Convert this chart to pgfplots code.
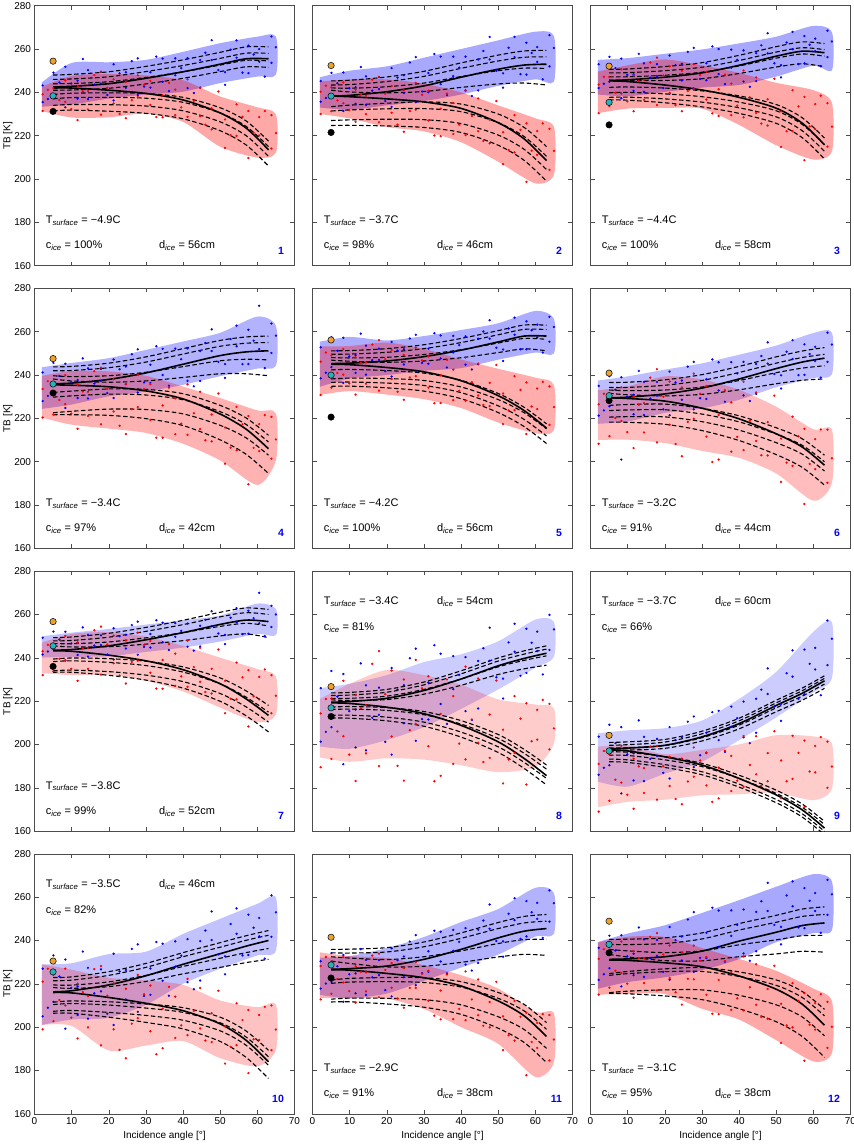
\documentclass[border=0pt]{standalone}
\usepackage{fontspec}
\setmainfont{Liberation Sans}
\usepackage{pgfplots}
\pgfplotsset{compat=1.18}
\usepackage{pgfplotstable}
\definecolor{mor}{RGB}{238,162,42}
\definecolor{mcy}{RGB}{38,178,184}
\newcommand\annfont{\fontsize{11}{13}\selectfont}
\newcommand\numfont{\fontsize{10.5}{12}\selectfont\bfseries}

\pgfplotsset{
  panel/.style={width=260pt,height=260pt,scale only axis,
    xmin=0,xmax=70,ymin=160,ymax=280,
    xtick={0,10,...,70},ytick={160,180,...,280},
    xticklabels={},yticklabels={},
    axis line style={black!70,line width=0.6pt},
    every tick/.style={black!70,line width=0.5pt},
    major tick length=4pt,
    tick label style={font=\fontsize{10}{12}\selectfont},
    label style={font=\fontsize{11.5}{13}\selectfont},
    every axis y label/.style={at={(axis description cs:-0.103,0.5)},rotate=90,anchor=center},
    every axis x label/.style={at={(axis description cs:0.5,-0.085)},anchor=center},
  },
  lcol/.style={yticklabels={160,180,200,220,240,260,280},ylabel={TB [K]}},
  brow/.style={xticklabels={0,10,20,30,40,50,60,70},xlabel={Incidence angle [°]}},
  bdot/.style={only marks,mark=*,blue,mark size=0.95pt},
  rdot/.style={only marks,mark=*,red,mark size=0.95pt},
  dcurve/.style={black,line width=1.1pt,dash pattern=on 4.5pt off 2.5pt,smooth,no marks},
  scurve/.style={black,line width=1.6pt,smooth,no marks},
}

% ---------------- curves: x V H v1 v2 v3 v4 h1 h2 h3 h4
\pgfplotstableread{
x V H v1 v2 v3 v4 h1 h2 h3 h4
5 242.5 242 248 246 244 241 239 237 234 231.5
10 242.8 242 248.3 246.2 244.1 241.1 239.6 237.6 234.4 231.8
20 244 241 249.5 247.2 244.9 241.9 239.8 237.7 234.3 231.3
30 246.5 239.5 252 249.6 246.9 243.9 239.5 237.3 233.7 230.3
40 249.5 236.5 255 252.4 249.5 246.5 237.7 235.4 231.5 227.8
50 253 230.5 258.5 255.7 252.6 249.6 232.9 230.5 226.4 222.3
57 255.5 223.5 261 258.1 254.8 251.8 226.8 224.3 220 215.7
63 255.5 213.5 261 258 254.5 251.5 217.5 215 210.5 206
}\cA
\pgfplotstableread{
x V H v1 v2 v3 v4 h1 h2 h3 h4
5 238.3 238.3 245.3 243.4 242.1 241 233.4 231.4 227 224.7
10 238.6 238 245.6 243.6 241.9 240.2 234.1 231.9 227.3 224.8
20 240.3 237 247.1 245 242.6 239.8 235 232.4 227.6 224.5
30 243 235.6 249.7 247.4 244.3 240.4 235.6 232.5 227.4 223.8
40 247 232.6 253.6 251.1 247.3 242.3 234.6 231.1 225.6 221.5
50 250.7 226 257.2 254.5 250 243.9 230 226 220.3 215.6
57 252.6 218.5 259.1 256.2 251.2 244.3 223.8 219.6 213.7 208.6
63 253 208.5 259.4 256.4 251 243.4 215 210.5 204.4 199
}\cB
\pgfplotstableread{
x V H v1 v2 v3 v4 h1 h2 h3 h4
5 245.5 245.3 250.6 249 247.2 245.7 242.3 239.8 237.7 236.5
10 245.8 245 250.8 249.1 247.2 245.4 242.5 240 237.8 236.4
20 247 243.4 251.9 250 247.9 245.5 242 239.3 237 235.2
30 249 241.1 253.7 251.6 249.3 246.3 240.7 238 235.5 233.3
40 252.5 237.7 257.1 254.7 252.2 248.7 238.4 235.5 232.9 230.3
50 256.7 232.7 261.1 258.6 255.8 251.7 234.4 231.5 228.7 225.7
57 259 225.8 263.3 260.6 257.7 253.2 228.3 225.2 222.3 219.1
63 258.3 215.8 262.5 259.7 256.7 251.8 218.9 215.8 212.8 209.3
}\cC
\pgfplotstableread{
x V H v1 v2 v3 v4 h1 h2 h3 h4
5 236 235.5 243.8 242 239.7 238.2 232 229.8 222.6 221.7
10 236.3 235.3 244 242.1 239.3 237.3 232.6 230.4 223.3 221.7
20 238 234.6 245.5 243.4 239.7 236.7 233.6 231.2 224.3 221.4
30 241 232.7 248.4 246 241.3 237.3 233.4 230.8 224.1 219.9
40 245 229 252.2 249.7 243.9 238.9 231.4 228.6 222.1 216.7
50 249 222 256 253.3 246.6 240.6 226 223.1 216.8 210.1
57 250.7 215 257.6 254.7 247.3 240.6 220.2 217.2 211 203.4
63 251.2 206 258 255 247 239.7 212.2 209.1 203 194.6
}\cD
\pgfplotstableread{
x V H v1 v2 v3 v4 h1 h2 h3 h4
5 245.3 245 251.2 249.6 248.1 246.9 242.4 238.2 236.6 234.8
10 245.5 244.8 251.3 249.7 247.9 246.4 242.6 238.6 236.8 234.9
20 246.5 243.5 252.2 250.5 248.2 245.9 242.1 238.4 236.3 234.1
30 248.5 241.5 254 252.2 249.5 246.5 240.9 237.5 235.2 232.6
40 251.5 237.4 256.9 255 251.7 248 237.6 234.5 231.9 229.1
50 255.3 230.5 260.5 258.6 254.8 250.4 231.5 228.7 225.8 222.7
57 258 223.6 263.1 261.1 256.9 252.1 225.1 222.6 219.5 216.2
63 258 215.5 263 261 256.5 251.2 217.5 215.2 211.9 208.4
}\cE
\pgfplotstableread{
x V H v1 v2 v3 v4 h1 h2 h3 h4
5 229.5 229.5 236.6 234.3 233.1 231.6 226 223.6 220.6 218.3
10 229.8 229.2 236.7 234.3 232.8 230.9 226.4 223.9 220.8 218.2
20 231.3 228 237.8 235.3 233.1 230.4 226.6 224 220.7 217.3
30 234 224.7 240.2 237.5 234.5 231.1 224.7 222 218.5 214.4
40 238.2 219.8 244 241.2 237.5 233.2 221.2 218.4 214.6 209.8
50 243 212.9 248.4 245.5 241.1 236 215.7 212.8 208.8 203.3
57 246 206.8 251.1 248.1 243.2 237.6 210.6 207.6 203.5 197.4
63 247.8 198.4 252.7 249.6 244.3 238.2 203 200 195.7 189.2
}\cF
\pgfplotstableread{
x V H v1 v2 v3 v4 h1 h2 h3 h4
5 243.5 243.2 249.3 247.8 246.6 245.5 239.4 238.2 234 233.3
10 243.8 243 249.6 248 246.5 245 239.9 238.6 234.3 233.3
20 245.5 241.2 251.3 249.5 247.3 245.1 239.6 237.9 233.6 231.9
30 248.3 238.6 254 252.2 249.2 246.3 238.4 236.4 232 229.7
40 251.6 234.5 257.3 255.3 251.6 247.9 235.8 233.4 229 226
50 255.4 228 261 258.9 254.5 250.1 230.7 228 223.5 219.9
57 257.4 221 263 260.8 255.9 251 224.7 221.8 217.3 213.2
63 256.7 213.4 262.3 260 254.7 249.3 218 214.9 210.3 205.8
}\cG
\pgfplotstableread{
x V H v1 v2 v3 v4 h1 h2 h3 h4
5 219.5 219.2 223.8 222.6 221.3 220.6 217.2 216.1 213.4 212.2
10 219.8 218.9 224 222.8 221.3 220.3 217.5 216.3 213.5 212.1
20 221.3 217.2 225.4 224.1 222.3 220.7 217 215.7 212.6 210.9
30 224.9 214.2 228.8 227.5 225.4 223.2 215.2 213.7 210.3 208.4
40 230.2 208.8 234 232.6 230.2 227.3 211 209.4 205.7 203.4
50 236.3 201.2 239.9 238.5 235.8 232.3 204.6 202.8 198.9 196.3
57 239.7 193.5 243.2 241.7 238.8 234.9 197.7 195.9 191.7 188.9
63 242.1 185.6 245.5 244 240.9 236.6 190.5 188.6 184.3 181.3
}\cH
\pgfplotstableread{
x V H v1 v2 v3 v4 h1 h2 h3 h4
5 198 197.5 200.9 199.6 198.4 197.3 196.6 195 193.2 192
10 198.3 197 201.2 199.9 198.5 197.4 196.4 194.9 192.9 191.7
20 199.6 194.3 202.3 201.1 199.5 198.2 194.4 192.9 190.7 189.4
30 203.5 190.5 206.1 204.9 203.1 201.6 191.3 189.8 187.4 186
40 209.6 184.3 212.1 210.9 208.9 207.2 185.8 184.3 181.7 180.3
50 218 176.7 220.4 219.2 216.9 215.1 178.9 177.4 174.6 173.1
57 223.6 169.8 226 224.8 222.3 220.4 172.5 171 168 166.5
63 229.4 161.4 231.7 230.5 227.9 225.9 164.5 163 159.9 158.3
}\cI
\pgfplotstableread{
x V H v1 v2 v3 v4 h1 h2 h3 h4
5 216.3 216 222.9 221.4 219.5 218.3 211.5 210.4 207.3 206.4
10 216.8 215.8 223.2 221.7 219.4 217.9 212.1 210.9 207.7 206.4
20 219.5 213.7 225.6 223.9 220.9 218.7 211.7 210.2 206.8 204.6
30 223.7 211 229.4 227.6 223.9 221.1 210.7 208.8 205.4 202.2
40 229 207.6 234.4 232.5 228 224.6 209 206.8 203.2 199.2
50 233.9 201.5 239 236.9 231.8 227.6 204.6 202 198.3 193.4
57 237.4 193.9 242.2 240.1 234.4 229.8 198.2 195.4 191.6 186
63 240 184 244.6 242.4 236.3 231.3 189.3 186.3 182.4 176.3
}\cJ
\pgfplotstableread{
x V H v1 v2 v3 v4 h1 h2 h3 h4
5 226.7 226.5 235.9 234.3 232.5 230.5 221.7 220.2 212.9 211.6
10 227 226.3 236 234.2 231.9 229.4 222.5 220.8 213.4 211.7
20 228.2 224.8 236.7 234.7 231.2 227.8 222.9 221 213.3 210.7
30 231.3 222.8 239.3 237.1 232.5 228.1 222.8 220.6 212.7 209.2
40 235.9 219 243.5 241 235.2 229.9 221 218.5 210.3 205.9
50 241.2 212.1 248.3 245.5 238.6 232.4 216 213.3 204.8 199.5
57 244.3 205.2 251.1 248.1 240.4 233.6 210.5 207.5 198.9 192.9
63 245.5 195.7 252 248.9 240.5 233.1 202.1 199 190.2 183.7
}\cK
\pgfplotstableread{
x V H v1 v2 v3 v4 h1 h2 h3 h4
5 231.3 231 240.5 238.2 235.9 233.6 224.7 223.9 215.9 215.6
10 231.5 230.8 240.6 238.1 235.2 232.4 225.7 224.7 216.6 215.4
20 232.5 229.7 241.2 238.6 234.4 230.7 226.9 225.6 217.2 214.4
30 235.1 227.9 243.5 240.7 235.2 230.6 227.5 225.7 217.2 212.7
40 239.7 223.6 247.8 244.8 238 232.5 225.5 223.4 214.7 208.5
50 243.8 217.5 251.6 248.4 240.3 233.8 221.8 219.3 210.3 202.5
57 246.9 210.6 254.5 251.1 242.2 235 216.5 213.7 204.7 195.7
63 248.1 200.9 255.5 252 242.3 234.6 208.2 205.2 196 186
}\cL

% ---------------- cloud cores (closed outlines): x yb yr
\pgfplotstableread{
x yb yr
2 233.4 231.4
10 234.4 228.4
20 237.1 228.5
30 239 230.2
40 240.3 226.4
50 244.3 214.9
60 247.3 209.9
65 248.2 212.2
65 265.8 229.8
60 265.7 233.1
50 262.7 238.1
40 258.7 245.6
30 255 247.8
20 253.9 248.5
10 253.6 247.6
2 244.6 242.6
}\bA
\pgfplotstableread{
x yb yr
2 233 230
10 232 228
20 234 224
30 236 222
40 239 217
50 243 208
60 246 198
65 245 202
65 266 224
60 268 228
50 264 234
40 260 240
30 256 244
20 252 246
10 250 246
2 247 245
}\bB
\pgfplotstableread{
x yb yr
2 239 230.4
10 238.2 232.5
20 240.2 232.8
30 242.2 232.5
40 243.4 225
50 247.3 215.6
60 252.3 209
65 250.2 212.8
65 267.8 235.2
60 270.7 241
50 265.7 244.4
40 262.6 249
30 259.8 252.5
20 257.8 255.2
10 255.8 252.5
2 255 249.6
}\bC
\pgfplotstableread{
x yb yr
2 224.4 220.4
10 226.4 217.1
20 230.2 215.3
30 232.4 213.3
40 235.5 208.3
50 239.5 200.6
60 243 189.3
65 244.3 200.7
65 262.7 222.3
60 267 223.7
50 259.5 229.4
40 255.5 234.7
30 251.6 239.7
20 247.8 241.7
10 245.6 241.9
2 243.6 239.6
}\bD
\pgfplotstableread{
x yb yr
2 234.6 230.8
10 238.4 232.6
20 240 231
30 242 228.9
40 243.2 224.8
50 247.1 218.1
60 250.4 213.2
65 250 214.6
65 266 235.4
60 269.6 238.8
50 263.9 242.9
40 260.8 247.2
30 258 252.1
20 256 255
10 257.6 253.4
2 255.4 253.2
}\bE
\pgfplotstableread{
x yb yr
2 217.5 210
10 218.6 210.2
20 222.5 208.6
30 224.6 205
40 228.6 201.8
50 234.4 194.6
60 238.6 182
65 240.4 190.2
65 259.6 214.8
60 259.4 215
50 253.6 225.4
40 249.4 233.2
30 245.4 238
20 242.5 239.4
10 239.4 234.8
2 237.5 233
}\bF
\pgfplotstableread{
x yb yr
2 240.1 233
10 240.4 232
20 240.7 232.2
30 242.7 229.4
40 244.7 224.5
50 247.5 217
60 251 210.3
65 250.5 213.8
65 262.5 231.3
60 265 234.8
50 259.5 240
40 257.3 245.5
30 255.3 249.7
20 253.3 251.8
10 251.6 251
2 249.9 247
}\bG
\pgfplotstableread{
x yb yr
2 199 194
10 198 192
20 202 193.6
30 208 193
40 216.4 190.4
50 225.4 187.2
60 235.4 189.6
65 240.4 200.4
65 256.6 216.6
60 257.6 218.4
50 247.6 220.8
40 241.6 227.6
30 238 232
20 232 234.4
10 228 228
2 226 221
}\bH
\pgfplotstableread{
x yb yr
2 182.8 171
10 180.5 173.5
20 186.5 174.5
30 192 176.5
40 202 177
50 212.5 177.7
60 224 174.3
65 230.6 179.5
65 256.4 200.5
60 252 203.7
50 233.5 204.3
40 221 200
30 211 197.5
20 207.5 195.5
10 206.5 199.5
2 205.2 199
}\bI
\pgfplotstableread{
x yb yr
2 201 201
10 203.5 200.6
20 204.3 189.2
30 210.3 191.5
40 220 193.6
50 227 185.7
60 233.1 181.9
65 235.3 189.5
65 259.8 210.5
60 256.9 209.2
50 250 212.3
40 243 219.5
30 234.8 221.6
20 233.7 222.8
10 229.5 226.5
2 229 229
}\bJ
\pgfplotstableread{
x yb yr
2 214.9 213.5
10 213.3 213.3
20 215.5 213.1
30 221.4 208.4
40 227.5 200
50 233.5 192.3
60 241.8 177
65 243.1 183.8
65 261.9 206.3
60 264.3 207
50 254.5 217.8
40 248.5 224
30 241.6 228.6
20 236.5 231.9
10 232.8 232.8
2 232.1 234.5
}\bK
\pgfplotstableread{
x yb yr
2 217.7 215
10 220.8 215.3
20 223 215.3
30 226.3 208.5
40 231.4 203.5
50 239.2 194
60 243.4 184.2
65 244.8 188
65 267.2 212
60 270.6 217.8
50 264.8 226
40 258.6 231.5
30 252.7 236.5
20 247 241.7
10 243.2 241.7
2 239.3 239
}\bL

% ---------------- scatter samples: x b1 b2 r1 r2 x3 b3 r3
\pgfplotstableread{
x b1 b2 r1 r2 x3 b3 r3
2.2 243.2 235.5 239.1 231.4 3.6 236.9 241.2
5.1 239.2 249.1 231.9 242 6.7 244.6 236.5
8.3 251.8 233.1 245.5 235.6 9.9 244.1 232.3
11.6 245.4 237.1 227.2 242.9 13 255.4 240.5
14.4 236.9 250.3 240.6 232.1 16.1 243.6 248
17.9 249.4 244.1 249.6 229.7 19.6 238.8 242.1
21.3 236.3 253 234.9 246 22.9 248.8 230
24.6 249.3 242.1 244.8 228.1 26.2 254.4 236.4
27.8 255.7 238.7 237.8 247.9 29.5 242.7 243.4
31.2 242.2 249.3 245.3 234.2 32.8 256.5 228.6
34.5 255.6 244.9 228.5 238.7 36.2 240.6 244.4
37.9 247.9 255.7 241.3 229.5 39.5 251.2 233.1
41.2 255.8 242 228.7 246 42.9 239.7 236.1
44.6 242.2 254.9 242.1 229 46 258.3 225.1
47.7 254.9 264.1 222.9 232.7 49.5 250.3 240.4
51.3 249.3 243.5 227.5 214.4 52.8 259.7 220.2
54.4 264 256 234.5 219.9 56 249.1 228.7
57.6 248.9 261.6 209.7 231.4 59 257.5 221.3
60.5 260 254.2 228.6 220.1 62 247.3 231.4
63.8 253.6 265.8 214.1 229.5 65 260.8 221.2
}\dA
\pgfplotstableread{
x b1 b2 r1 r2 x3 b3 r3
2.2 245.2 235.7 240.3 230 3.6 237.4 243.1
5.1 238.5 249 231.3 242.3 6.7 244.2 236.3
8.3 249.2 231.4 244.6 235 9.9 241.9 231.8
11.6 242.4 234.7 226.4 241.3 13 251.7 239
14.4 234.2 247.4 238.5 230 16.1 240.8 245.9
17.9 247 241.5 247.2 226.2 19.6 236 239.3
21.3 233.3 251.2 230.6 242.9 22.9 246.8 225.1
24.6 247.9 239.7 241 221.8 26.2 253.8 231.4
27.8 256.3 235.5 232 244.4 29.5 240.4 238.9
31.2 240.1 248.9 240.8 227 32.8 257.7 220.1
34.5 256.5 243.8 219.8 232.4 36.2 238.7 239.4
37.9 247.5 256.5 235.1 220.8 39.5 251.4 225.1
41.2 256.5 240.9 220.3 240.7 42.9 238.3 229.1
44.6 240.9 255.2 237.2 222.1 46 259.1 217.6
47.7 255.2 265.6 216.5 227.4 49.5 250 236
51.3 248.8 242.2 221.6 206.9 52.8 260.6 213.4
54.4 265.6 256.3 229.5 212.3 56 248.4 222.7
57.6 248.2 262.9 198.7 225.7 59 258.2 213.1
60.5 260.9 254.1 222.1 211.2 62 246 225.7
63.8 252 266.4 204.2 223.2 65 260.5 213
}\dB
\pgfplotstableread{
x b1 b2 r1 r2 x3 b3 r3
2.2 253 242 243.6 230.4 3.6 244 247.2
5.1 244.9 256.4 233.7 247.1 6.7 251.2 239.8
8.3 255.6 237.3 250.7 239.5 9.9 248.1 235.8
11.6 248.4 240.7 231.3 247.8 13 257.8 245.2
14.4 240.2 253.4 245.8 236.6 16.1 246.8 253.8
17.9 253 247.5 256 234.1 19.6 242 247.8
21.3 239.4 257 239.7 252.1 22.9 252.6 234.1
24.6 253.2 245.5 250 231.3 26.2 258.7 240.6
27.8 260.5 241.8 241.5 253 29.5 246.2 247.9
31.2 245.6 253.4 249.5 236.7 32.8 261.2 230.3
34.5 260 248.5 229.1 241.4 36.2 243.8 248.2
37.9 251.4 259.7 244 229.5 39.5 255 233.9
41.2 259.4 245 228.5 250.1 42.9 242.6 237.7
44.6 245.2 258.1 246.9 230.5 46 261.7 225.6
47.7 258 267.3 224.7 236.8 49.5 253.4 246.3
51.3 252.6 246.9 231.2 214.8 52.8 263 222.1
54.4 267.9 259.9 241 222.1 56 253 233.5
57.6 253.4 266 208.7 237.9 59 262 224.3
60.5 264.8 259 234.6 223 62 252.1 238.5
63.8 256.3 268.5 215 235 65 263.5 224.2
}\dC
\pgfplotstableread{
x b1 b2 r1 r2 x3 b3 r3
2.2 241.2 228 233.6 220.4 3.6 230.4 237.2
5.1 232.4 245.6 221.8 236.5 6.7 239.6 228.5
8.3 245.2 224.8 240 226.6 9.9 236.8 222.2
11.6 237.7 229.4 215.2 235.6 13 247.7 232.4
14.4 229.2 243.1 232.3 221.2 16.1 236.1 241.8
17.9 242.9 237.3 243.4 217.3 19.6 231.7 233.6
21.3 229.4 247.2 223.2 238.1 22.9 242.7 216.6
24.6 243.9 235.8 235.9 212.8 26.2 249.6 224.3
27.8 251.9 231.9 225.2 240.1 29.5 236.6 233.5
31.2 236.4 244.8 235.8 219.3 32.8 253.3 211.1
34.5 252.1 240 211.1 226 36.2 235.1 234.2
37.9 243.6 252.2 229.2 212.7 39.5 247.3 217.6
41.2 252.3 237.3 212.4 235.7 42.9 234.8 222.4
44.6 237.3 251.1 232.3 215.1 46 254.8 209.9
47.7 251.1 261.1 209.4 221.8 49.5 246.1 231.5
51.3 245.1 238.7 215.8 199.1 52.8 256.6 206.5
54.4 262.8 253.3 225.3 205.3 56 245.1 217.3
57.6 245.1 260.9 189.6 221.1 59 255.9 206.4
60.5 272 252 217.4 204.9 62 243.2 221.5
63.8 250.2 263.8 201.4 220.7 65 258.2 210.3
}\dD
\pgfplotstableread{
x b1 b2 r1 r2 x3 b3 r3
2.2 252.8 238.5 246.2 230.8 3.6 241.1 250.4
5.1 243.7 257.5 234.2 249.2 6.7 251.2 241
8.3 257.2 236.4 252 240.2 9.9 248.6 236.2
11.6 249.2 241 231 248.3 13 259.1 245.7
14.4 240.2 253.6 245.8 236 16.1 246.9 254.1
17.9 252.2 247 256.1 232.8 19.6 241.8 247.4
21.3 239.3 255.3 238.2 251.6 22.9 251.3 232.3
24.6 251.9 244.9 249.3 228.6 26.2 256.9 238.9
27.8 258.6 241.6 239.5 252.7 29.5 245.6 246.8
31.2 245.2 252.2 248.6 234.2 32.8 259.3 227
34.5 258.3 247.7 227.1 239.9 36.2 243.5 247
37.9 250.5 258.1 242.5 228.4 39.5 253.8 232.7
41.2 257.9 244.8 228.2 248.1 42.9 242.6 236.7
44.6 245 256.8 245.3 230.6 46 260.1 226.2
47.7 256.8 265.3 225.7 236.4 49.5 252.6 244.7
51.3 251.8 246.5 231.5 217.4 52.8 261.5 223.7
54.4 266.5 258.6 239.5 223.8 56 251.9 233.2
57.6 251.9 264.8 212.8 236.6 59 260.7 225.5
60.5 263.3 257.4 233.8 224.3 62 250.4 236.9
63.8 255.4 266.9 217 234.8 65 262.2 225.2
}\dE
\pgfplotstableread{
x b1 b2 r1 r2 x3 b3 r3
2.2 235 221.3 226.5 208.3 3.6 223.7 231.4
5.1 225.6 239.5 211.8 230.4 6.7 233.2 220.2
8.3 239 201 234.4 218.8 9.9 230 213.7
11.6 230.9 221.9 206.3 230 13 241.9 226.3
14.4 221.5 236.9 227.1 213.5 16.1 229.2 238.8
17.9 236.8 230.5 242.7 208.9 19.6 224.2 230
21.3 221.5 241.6 217.1 237 22.9 236.6 208.2
24.6 237.5 228.6 234.3 202.5 26.2 243.9 218.4
27.8 246.1 224.2 219.8 240.7 29.5 229.3 231.4
31.2 229 238.1 235 211.6 32.8 247.2 199.9
34.5 245.9 232.9 201 221.6 36.2 227.7 233
37.9 236.9 246 227.4 204.7 39.5 240.8 211.5
41.2 246.1 230.6 205.4 236.9 42.9 228 218.9
44.6 231.3 245.1 232 209.6 46 248.8 203
47.7 245.3 255.1 202.9 218.3 49.5 240.5 230.5
51.3 239.9 233.8 210.7 190.7 52.8 250.8 199.6
54.4 256.1 247.4 220.8 198.1 56 240 211.7
57.6 240.1 254.2 180.5 215.2 59 249.7 199
60.5 253 246.5 210.4 196.6 62 238.8 214.9
63.8 246.1 259.6 190.3 214.8 65 254.1 201.6
}\dF
\pgfplotstableread{
x b1 b2 r1 r2 x3 b3 r3
2.2 249.2 241.5 243 232 3.6 242.9 246
5.1 243.9 252.1 233.8 246.3 6.7 248.4 239.5
8.3 252 238.8 250.1 238.7 9.9 246.6 234.9
11.6 247 241.3 229.4 247 13 254 244.3
14.4 240.5 250.6 244.4 234.9 16.1 245.6 252.7
17.9 250.3 245.9 254.4 232.2 19.6 241.5 246.1
21.3 239.2 253.6 237.5 250.2 22.9 250 231.8
24.6 250.6 244.3 248 228.1 26.2 255.1 238.1
27.8 256.7 241.4 238.7 251.6 29.5 245 245.9
31.2 244.7 251 247.7 233.1 32.8 257.3 225.8
34.5 256.2 247.2 225.7 239 36.2 243.6 246.3
37.9 249.7 256 241.9 227 39.5 252.4 231.4
41.2 255.8 245.1 226.6 247.9 42.9 243.3 235.7
44.6 245.2 254.8 244.6 228.9 46 257.5 224.2
47.7 254.6 261.5 223.5 234.9 49.5 251.2 243.8
51.3 250.6 246.3 229.4 214.4 52.8 258.5 221.1
54.4 262.9 256.4 237.8 220.8 56 250.9 231
57.6 251.1 261.7 208.3 234.3 59 258.3 222.2
60.5 270 255.9 231.2 220.8 62 250 234.6
63.8 254.2 264 214.4 232 65 260 222.5
}\dG
\pgfplotstableread{
x b1 b2 r1 r2 x3 b3 r3
2.2 226 201.3 214.3 189.5 3.6 205.8 221
5.1 208 233.9 193.3 221.2 6.7 222.1 206
8.3 232.5 190.9 229.4 203.8 9.9 215.4 195.3
11.6 216.1 198.6 183.1 222.8 13 237.4 216.7
14.4 197.3 227.3 218.2 195.9 16.1 212.3 237.2
17.9 226.2 213.7 243.1 190 19.6 201.2 223.2
21.3 195.3 235.3 203.7 234.1 22.9 225.3 190.1
24.6 227.3 209.8 230 183.3 26.2 239.8 206.6
27.8 244.2 201.7 209.5 239 29.5 211.7 225.9
31.2 211.5 228.6 231.5 199.2 32.8 245.8 183
34.5 241.9 218.7 185.5 214.1 36.2 209.5 230
37.9 225.5 240.8 222.3 191 39.5 232.1 200.4
41.2 240.3 215.4 193.1 235.9 42.9 211.3 211.5
44.6 216.6 238.5 230.4 200.8 46 244.4 191.9
47.7 238.6 253.9 193.8 213.8 49.5 231 229.5
51.3 230.4 221.2 206.8 182 52.8 247.1 193
54.4 255.7 242.8 222.3 196.1 56 231.7 211.9
57.6 233 253.4 181.5 219 59 246.9 201.5
60.5 252.1 243.1 216 202.2 62 232.3 220.6
63.8 243.6 259.8 197.7 218.7 65 253.1 207.4
}\dH
\pgfplotstableread{
x b1 b2 r1 r2 x3 b3 r3
2.2 203.6 186 191 169 3.6 189.2 197
5.1 190.4 209.1 174 195.3 6.7 200.6 183.7
8.3 208 177.4 199.4 182.4 9.9 195.4 176.8
11.6 195.9 183.4 170.3 193.4 13 211.1 189.9
14.4 183.1 203.5 189.1 177.6 16.1 193.3 199
17.9 202.6 194.7 199.3 174.5 19.6 186.9 190
21.3 184.3 208 180.8 194.3 22.9 202 174.8
24.6 203.4 193.4 193.4 172.4 26.2 210.5 182.9
27.8 212.9 189.5 185.1 198.6 29.5 195 192.6
31.2 196 205.4 196.3 181.1 32.8 214.9 173.5
34.5 215.5 202 175.1 189.3 36.2 196.6 197.1
37.9 208.1 217.5 194.7 178.5 39.5 212.1 183.3
41.2 219.8 203.3 180.4 203.9 42.9 200.6 190.5
44.6 205.4 221.1 203.8 186.2 46 225.3 180.9
47.7 223.3 235.1 183 196 49.5 217.5 206.1
51.3 218.7 210.9 192.6 175.3 52.8 232.9 183
54.4 243.4 231.3 204 184.1 56 221 196.1
57.6 223.1 243.8 171.1 201.8 59 237.2 187.5
60.5 244.6 234.6 199.3 187.1 62 222.7 203.4
63.8 236.6 257.2 180 201.3 65 248.8 189.8
}\dI
\pgfplotstableread{
x b1 b2 r1 r2 x3 b3 r3
2.2 227 205 221 199 3.6 209 227
5.1 211.7 233.1 202.8 224.1 6.7 223.4 212.5
8.3 231.2 199.3 227 210 9.9 218.1 204.4
11.6 218.8 205.6 194.8 220.1 13 234.9 216.2
14.4 203.9 227.4 214.3 199.9 16.1 215.6 226.8
17.9 226.7 216.5 228.2 191.6 19.6 206.2 214.5
21.3 201 233.9 199 220.3 22.9 225.7 189.5
24.6 226.4 212.8 217.7 185.6 26.2 236.1 201.6
27.8 238.2 207.1 204.2 224.1 29.5 214.4 215.2
31.2 214.9 227.1 219.2 198.1 32.8 239.3 187.5
34.5 238.5 221.4 190.3 208.5 36.2 214.5 218.6
37.9 227.9 239.6 214.1 195 39.5 233 200.8
41.2 240.6 220.8 196.3 222.3 42.9 217.5 207.5
44.6 221.5 239.7 218.1 199.4 46 244.6 193.8
47.7 240.2 253.4 193.1 206.4 49.5 233.6 216.8
51.3 232.7 224.4 200.4 183.2 52.8 247.6 190.9
54.4 254.8 243.1 211 191.7 56 233.1 203.3
57.6 233.3 251.9 178.8 207.9 59 245.9 194.4
60.5 250.4 241.9 205.6 194.1 62 231.6 209.4
63.8 241.7 260.8 189.4 210 65 253 198.9
}\dJ
\pgfplotstableread{
x b1 b2 r1 r2 x3 b3 r3
2.2 230.4 217.8 228.2 212.8 3.6 220.1 232.4
5.1 220.9 234.2 215.4 230.4 6.7 228.1 222.2
8.3 233.3 211.7 232.4 220.6 9.9 224.4 216.6
11.6 224.8 215.6 211.3 228.1 13 236 225.5
14.4 214.9 231 225.3 216.5 16.1 223 233
17.9 230.9 224 233.9 213.8 19.6 217.1 226.4
21.3 214.2 236.4 218.2 229.6 22.9 230.9 213.2
24.6 232.6 223 227.2 209 26.2 239.5 218.1
27.8 242.5 219.4 218.1 230 29.5 224.9 224.7
31.2 225.5 235 226 212.2 32.8 244.5 205.3
34.5 244 230.3 203.6 216.9 36.2 224.8 224.3
37.9 235.2 244.9 219.3 203.7 39.5 239.4 208.4
41.2 245.7 228.9 203.2 225.7 42.9 226.1 212.8
44.6 229.6 245 222 205.5 46 249.2 200.6
47.7 245.4 256.6 199.9 211.6 49.5 239.8 220.9
51.3 239.6 232.5 205 189.4 52.8 252.3 196.3
54.4 259.5 249.4 212.1 193.8 56 240.8 204.8
57.6 241.9 258.2 177.8 206.6 59 253 193.2
60.5 257.4 250 202 190.4 62 241.2 206
63.8 248.7 263.1 184.6 205.6 65 257.2 194.3
}\dK
\pgfplotstableread{
x b1 b2 r1 r2 x3 b3 r3
2.2 236.6 221.8 231.5 215 3.6 224.4 236
5.1 227.2 242.2 218.2 235.4 6.7 235.4 226
8.3 242.4 218.8 239.5 225 9.9 232.7 220.1
11.6 233.9 224 213.6 235.1 13 246 231.8
14.4 223.2 240.5 231.8 220.3 16.1 231.9 241.7
17.9 240.3 232.9 243.4 217 19.6 225.5 233.5
21.3 221.9 246.2 222.7 237.7 22.9 240.2 216.1
24.6 241.8 230.8 234.2 210.4 26.2 249.7 222.3
27.8 253.1 225.5 222.1 237.6 29.5 232 230.7
31.2 231.9 243.5 232.4 214.9 32.8 255.1 206.2
34.5 253.8 237 206 221.8 36.2 230.2 230.5
37.9 242.1 253.9 225.5 208 39.5 247.2 213.3
41.2 254.3 234 207.7 232.6 42.9 230.6 218.4
44.6 235 253.2 229 210.3 46 258.1 204.7
47.7 253.6 266.6 203.9 217.6 49.5 247.2 228.3
51.3 246.3 238.2 210.8 192.7 52.8 260.8 200.8
54.4 267.3 255.8 220.3 199.9 56 246 212.1
57.6 245.7 264.2 184.5 215.7 59 258.3 201.1
60.5 261.9 253.6 211.1 198.9 62 243.5 215.2
63.8 251.8 268 190.4 211.7 65 261.3 200.2
}\dL

% #1 curves, #2 scatter samples, #3 cloud cores, #4 core shading strength
\newcommand{\drawpanel}[4]{%
  \addplot[fill=blue,fill opacity=#4,draw=none,smooth,tension=0.45] table[x=x,y=yb]{#3};
  \addplot[fill=red,fill opacity=#4,draw=none,smooth,tension=0.45] table[x=x,y=yr]{#3};
  \addplot[bdot] table[x=x,y=b1]{#2};
  \addplot[bdot] table[x=x,y=b2]{#2};
  \addplot[bdot] table[x=x3,y=b3]{#2};
  \addplot[rdot] table[x=x,y=r1]{#2};
  \addplot[rdot] table[x=x,y=r2]{#2};
  \addplot[rdot] table[x=x3,y=r3]{#2};
  \addplot[dcurve] table[x=x,y=v1]{#1};
  \addplot[dcurve] table[x=x,y=v2]{#1};
  \addplot[dcurve] table[x=x,y=v3]{#1};
  \addplot[dcurve] table[x=x,y=v4]{#1};
  \addplot[dcurve] table[x=x,y=h1]{#1};
  \addplot[dcurve] table[x=x,y=h2]{#1};
  \addplot[dcurve] table[x=x,y=h3]{#1};
  \addplot[dcurve] table[x=x,y=h4]{#1};
  \addplot[scurve] table[x=x,y=V]{#1};
  \addplot[scurve] table[x=x,y=H]{#1};
}
\newcommand{\mk}[2]{\addplot[only marks,mark=*,mark size=3.2pt,mark options={fill=#1,draw=black,line width=0.5pt}] coordinates {(5,#2)};}
\newcommand{\annot}[4]{%
  \node[anchor=base west,inner sep=0pt,font=\annfont] at (axis cs:3,179.4) {T\textsubscript{\textit{surface}} = −#1C};
  \node[anchor=base west,inner sep=0pt,font=\annfont] at (axis cs:3,167.8) {c\textsubscript{\textit{ice}} = #2\%};
  \node[anchor=base west,inner sep=0pt,font=\annfont] at (axis cs:33.5,167.8) {d\textsubscript{\textit{ice}} = #3cm};
  \node[anchor=base east,inner sep=0pt,font=\numfont,text=blue] at (axis cs:67.2,165.3) {#4};}
\newcommand{\annottop}[4]{%
  \node[anchor=base west,inner sep=0pt,font=\annfont] at (axis cs:3,264.5) {T\textsubscript{\textit{surface}} = −#1C};
  \node[anchor=base west,inner sep=0pt,font=\annfont] at (axis cs:3,252.4) {c\textsubscript{\textit{ice}} = #2\%};
  \node[anchor=base west,inner sep=0pt,font=\annfont] at (axis cs:33.5,264.5) {d\textsubscript{\textit{ice}} = #3cm};
  \node[anchor=base east,inner sep=0pt,font=\numfont,text=blue] at (axis cs:67.2,165.3) {#4};}

\begin{document}
\begin{tikzpicture}
\useasboundingbox (0,0) rectangle (854pt,-1146pt);
% row 1
\begin{axis}[panel,lcol,at={(34.5pt,-265.7pt)},anchor=south west]
\drawpanel{\cA}{\dA}{\bA}{0.34}
\mk{mor}{254.4}\mk{black}{231.2}\mk{mcy}{238.4}
\annot{4.9}{100}{56}{1}
\end{axis}
\begin{axis}[panel,at={(312.5pt,-265.7pt)},anchor=south west]
\drawpanel{\cB}{\dB}{\bB}{0.34}
\mk{mor}{252.4}\mk{black}{221.5}\mk{mcy}{238.3}
\annot{3.7}{98}{46}{2}
\end{axis}
\begin{axis}[panel,at={(590.5pt,-265.7pt)},anchor=south west]
\drawpanel{\cC}{\dC}{\bC}{0.34}
\mk{mor}{252.1}\mk{black}{225}\mk{mcy}{235.4}
\annot{4.4}{100}{58}{3}
\end{axis}
% row 2
\begin{axis}[panel,lcol,at={(34.5pt,-548.4pt)},anchor=south west]
\drawpanel{\cD}{\dD}{\bD}{0.3}
\mk{mor}{247.6}\mk{black}{231.7}\mk{mcy}{235.9}
\annot{3.4}{97}{42}{4}
\end{axis}
\begin{axis}[panel,at={(312.5pt,-548.4pt)},anchor=south west]
\drawpanel{\cE}{\dE}{\bE}{0.32}
\mk{mor}{256.2}\mk{black}{220.6}\mk{mcy}{240}
\annot{4.2}{100}{56}{5}
\end{axis}
\begin{axis}[panel,at={(590.5pt,-548.4pt)},anchor=south west]
\drawpanel{\cF}{\dF}{\bF}{0.26}
\mk{mor}{240.9}\mk{black}{228.2}\mk{mcy}{230.5}
\annot{3.2}{91}{44}{6}
\end{axis}
% row 3
\begin{axis}[panel,lcol,at={(34.5pt,-831.1pt)},anchor=south west]
\drawpanel{\cG}{\dG}{\bG}{0.24}
\mk{mor}{256.7}\mk{black}{236}\mk{mcy}{245.5}
\annot{3.8}{99}{52}{7}
\end{axis}
\begin{axis}[panel,at={(312.5pt,-831.1pt)},anchor=south west]
\drawpanel{\cH}{\dH}{\bH}{0.2}
\mk{mor}{226.7}\mk{black}{212.9}\mk{mcy}{216.9}
\annottop{3.4}{81}{54}{8}
\end{axis}
\begin{axis}[panel,at={(590.5pt,-831.1pt)},anchor=south west]
\drawpanel{\cI}{\dI}{\bI}{0.2}
\mk{mor}{204.2}\mk{mcy}{197}
\annottop{3.7}{66}{60}{9}
\end{axis}
% row 4
\begin{axis}[panel,lcol,brow,at={(34.5pt,-1113.8pt)},anchor=south west]
\drawpanel{\cJ}{\dJ}{\bJ}{0.24}
\mk{mor}{230.5}\mk{mcy}{225.5}
\annottop{3.5}{82}{46}{10}
\end{axis}
\begin{axis}[panel,brow,at={(312.5pt,-1113.8pt)},anchor=south west]
\drawpanel{\cK}{\dK}{\bK}{0.3}
\mk{mor}{241.5}\mk{black}{222.7}\mk{mcy}{228.7}
\annot{2.9}{91}{38}{11}
\end{axis}
\begin{axis}[panel,brow,at={(590.5pt,-1113.8pt)},anchor=south west]
\drawpanel{\cL}{\dL}{\bL}{0.34}
\mk{mor}{248.9}\mk{black}{234.3}\mk{mcy}{238.2}
\annot{3.1}{95}{38}{12}
\end{axis}
\end{tikzpicture}
\end{document}
